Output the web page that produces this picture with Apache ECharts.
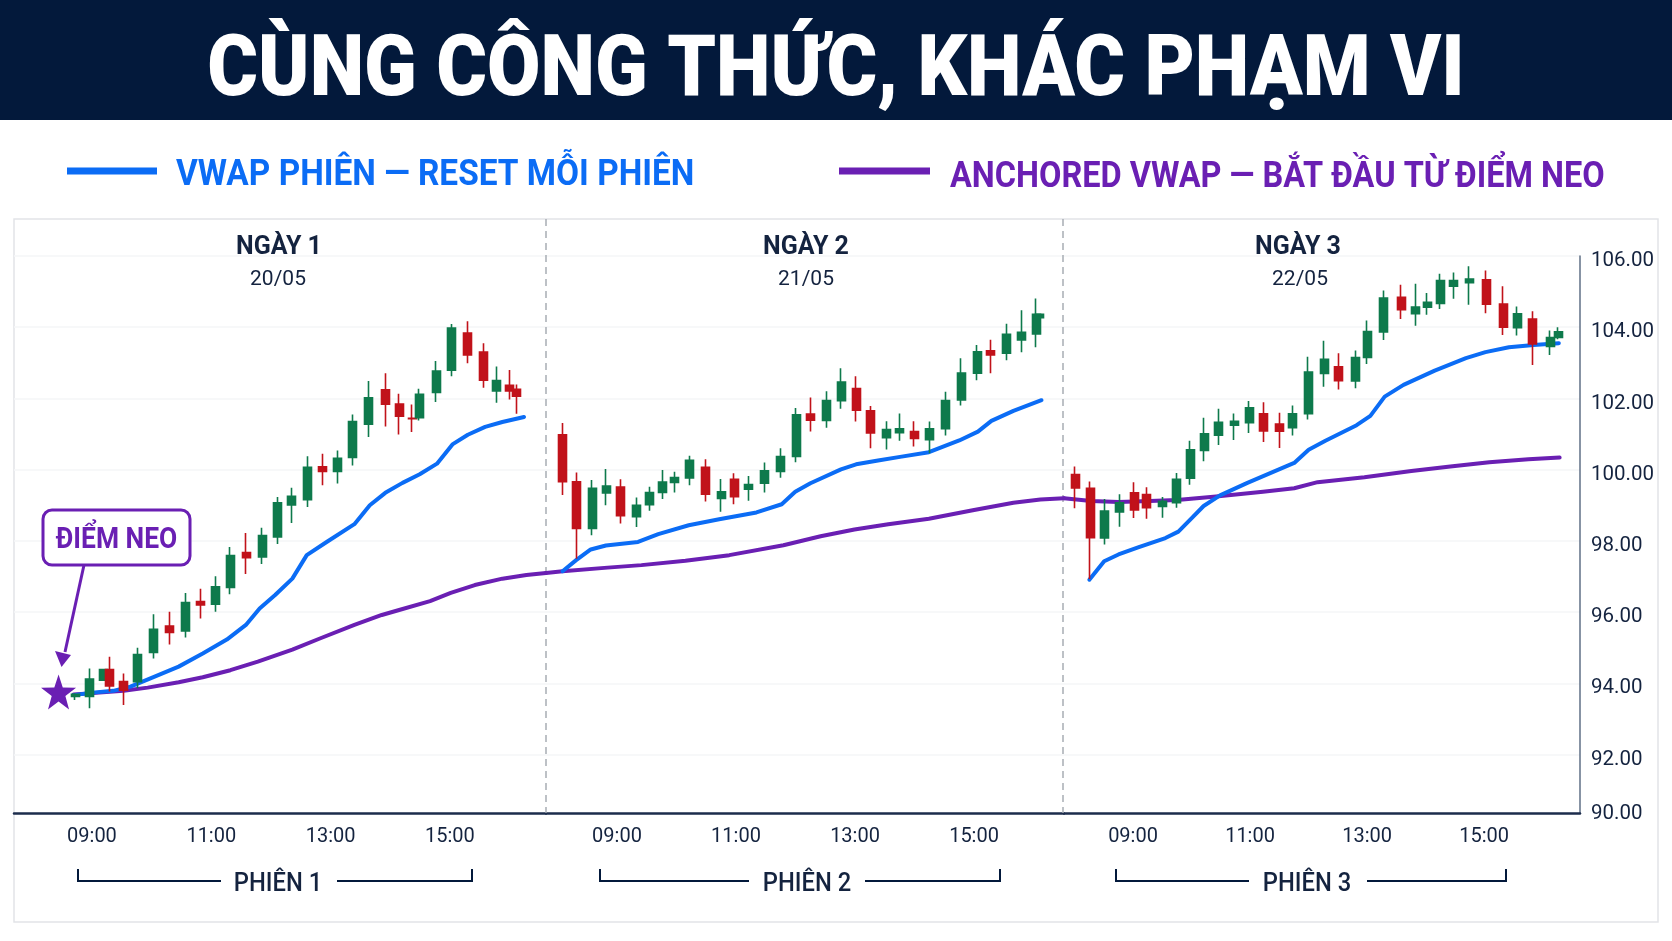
<!DOCTYPE html>
<html lang="vi">
<head>
<meta charset="utf-8">
<title>Cùng công thức, khác phạm vi</title>
<script src="https://cdn.jsdelivr.net/npm/echarts@6/dist/echarts.min.js"></script>
<style>
  html, body { margin: 0; padding: 0; background: #fff; }
  #chart { width: 1672px; height: 941px; }
</style>
</head>
<body>
<div id="chart"></div>
<script>
// truc y dung chung (gia tri 90.00 nam sat day khung)
const yTicks = [90.47, 92, 94, 96, 98, 100, 102, 104, 106];
const yTickLabels = ['90.00', '92.00', '94.00', '96.00', '98.00', '100.00', '102.00', '104.00', '106.00'];
// gio tren truc x, tinh bang phut trong ngay
const timeTicks = [540, 660, 780, 900];
const timeLabels = ['09:00', '11:00', '13:00', '15:00'];

// ngay 1
const d1Time = [523, 538, 552, 558, 572, 586, 602, 618, 634, 649, 664, 679, 695, 711, 727, 741, 757, 772, 787, 802, 818, 835, 849, 862, 869, 886, 902, 918, 934, 947, 960, 967];
const d1Open = [93.63, 93.63, 94.09, 94.39, 94.05, 94.05, 94.87, 95.61, 95.47, 96.30, 96.22, 96.69, 97.67, 97.55, 98.11, 99.01, 99.16, 100.08, 99.95, 100.34, 101.28, 102.24, 101.84, 101.44, 101.46, 102.17, 102.79, 103.84, 103.30, 102.21, 102.37, 102.26];
const d1Close = [93.69, 94.12, 94.39, 93.93, 93.81, 94.81, 95.52, 95.43, 96.27, 96.20, 96.71, 97.59, 97.53, 98.15, 99.07, 99.25, 100.07, 99.95, 100.32, 101.35, 102.02, 101.84, 101.50, 101.43, 102.12, 102.77, 103.98, 103.22, 102.51, 102.50, 102.21, 102.06];
const d1Low = [93.53, 93.30, 94.09, 93.77, 93.39, 93.86, 94.70, 95.09, 95.29, 95.82, 96.01, 96.50, 97.07, 97.35, 97.91, 98.50, 98.95, 99.56, 99.61, 100.12, 100.92, 101.21, 100.99, 101.06, 101.38, 101.90, 102.62, 102.99, 102.30, 101.88, 101.97, 101.57];
const d1High = [93.72, 94.42, 94.39, 94.75, 94.28, 95.00, 95.94, 96.01, 96.54, 96.66, 97.01, 97.83, 98.22, 98.37, 99.23, 99.49, 100.38, 100.45, 100.54, 101.55, 102.49, 102.71, 102.13, 101.83, 102.27, 103.05, 104.09, 104.17, 103.55, 102.90, 102.80, 102.39];
const d1BlueTime = [521.6, 540.6, 561.4, 578.7, 601.2, 627.2, 651.4, 675.6, 694.8, 708.6, 724.2, 741.5, 756, 776, 803.9, 819.4, 835, 852.3, 869.6, 887, 902.5, 918, 935.4, 952.7, 974.5];
const d1Blue = [93.67, 93.74, 93.79, 93.91, 94.17, 94.47, 94.84, 95.23, 95.64, 96.10, 96.48, 96.94, 97.60, 97.97, 98.47, 99.00, 99.35, 99.63, 99.87, 100.17, 100.71, 100.98, 101.20, 101.34, 101.48];
const d1PurpleTime = [521.6, 547.5, 571.8, 596, 627.2, 651.4, 679.2, 706.8, 741.5, 769.2, 803.9, 831.5, 848.9, 880, 900.8, 925, 952.7, 976.9, 996.6];
const d1Purple = [93.69, 93.74, 93.79, 93.88, 94.03, 94.17, 94.37, 94.61, 94.95, 95.26, 95.64, 95.92, 96.06, 96.31, 96.54, 96.76, 96.94, 97.04, 97.10];

// ngay 2
const d2Time = [485.5, 499, 515, 529, 544, 560, 573, 586, 598, 613, 629, 645, 658, 673, 689, 705, 720.5, 735, 751, 766, 781, 796, 812, 825, 839.5, 855, 871, 887, 903, 917, 933, 948, 962.5, 966];
const d2Open = [100.98, 99.66, 98.35, 99.35, 99.51, 98.68, 99.02, 99.36, 99.64, 99.77, 100.07, 99.19, 99.73, 99.45, 99.62, 99.95, 100.37, 101.56, 101.38, 101.94, 102.28, 101.65, 100.90, 101.04, 101.07, 100.84, 101.15, 101.96, 102.71, 103.34, 103.27, 103.64, 103.81, 104.27];
const d2Close = [99.66, 98.35, 99.48, 99.54, 98.71, 99.00, 99.36, 99.65, 99.78, 100.26, 99.31, 99.38, 99.24, 99.58, 99.97, 100.37, 101.54, 101.39, 101.94, 102.46, 101.67, 101.03, 101.13, 101.15, 100.88, 101.15, 101.94, 102.71, 103.31, 103.22, 103.80, 103.86, 104.36, 104.36];
const d2Low = [99.29, 97.50, 98.16, 99.00, 98.49, 98.39, 98.85, 99.18, 99.36, 99.56, 99.11, 98.82, 99.03, 99.13, 99.36, 99.77, 100.21, 101.07, 101.18, 101.71, 101.35, 100.60, 100.57, 100.81, 100.65, 100.46, 100.96, 101.80, 102.51, 102.71, 103.07, 103.30, 103.44, 104.27];
const d2High = [101.31, 99.92, 99.71, 100.02, 99.73, 99.22, 99.52, 99.99, 99.94, 100.39, 100.29, 99.74, 99.90, 99.82, 100.20, 100.60, 101.73, 102.03, 102.20, 102.85, 102.62, 101.79, 101.36, 101.58, 101.36, 101.35, 102.19, 103.13, 103.50, 103.65, 104.10, 104.48, 104.81, 104.36];
const d2BlueTime = [485.1, 498.8, 513.5, 528.8, 561.2, 581.6, 612.3, 643, 680.6, 706.1, 719.7, 735, 765.8, 781.1, 803.2, 825.4, 854.5, 885.1, 903.9, 917.5, 939.7, 968];
const d2Blue = [97.15, 97.46, 97.76, 97.87, 97.97, 98.19, 98.44, 98.61, 98.80, 99.03, 99.38, 99.62, 100.01, 100.15, 100.26, 100.36, 100.49, 100.82, 101.07, 101.37, 101.65, 101.95];
const d2PurpleTime = [468.4, 485.1, 530.5, 564.6, 609, 653.2, 707.8, 745.3, 779.4, 813.5, 854.5, 898.7, 939.7, 966.9, 990.7];
const d2Purple = [97.10, 97.15, 97.25, 97.32, 97.44, 97.60, 97.88, 98.13, 98.32, 98.47, 98.62, 98.86, 99.07, 99.16, 99.20];

// ngay 3
const d3Time = [480.5, 496, 511, 526, 541, 554, 570, 585, 598.5, 613, 628, 643.6, 659, 674, 690, 704, 719.5, 736, 751, 768, 780, 797, 815, 830, 841.5, 855, 869, 884.6, 902, 919.5, 934, 950, 967.7, 975.9];
const d3Open = [99.86, 99.48, 98.08, 98.81, 99.35, 99.30, 98.97, 99.07, 99.76, 100.54, 100.97, 101.25, 101.32, 101.57, 101.28, 101.18, 101.57, 102.70, 102.89, 102.49, 103.15, 103.87, 104.84, 104.38, 104.56, 104.67, 105.15, 105.25, 105.33, 104.65, 103.99, 104.23, 103.46, 103.71];
const d3Close = [99.49, 98.09, 98.84, 99.07, 98.87, 98.93, 99.11, 99.73, 100.56, 101.01, 101.33, 101.36, 101.74, 101.09, 101.08, 101.57, 102.74, 103.10, 102.50, 103.15, 103.88, 104.82, 104.49, 104.57, 104.70, 105.31, 105.31, 105.35, 104.65, 104.00, 104.38, 103.53, 103.71, 103.87];
const d3Low = [98.92, 96.93, 97.90, 98.40, 98.64, 98.62, 98.65, 98.93, 99.58, 100.24, 100.69, 100.83, 101.03, 100.78, 100.61, 100.96, 101.41, 102.33, 102.25, 102.29, 102.97, 103.64, 104.23, 104.04, 104.35, 104.51, 104.80, 104.63, 104.39, 103.78, 103.77, 102.94, 103.22, 103.66];
const d3High = [100.09, 99.67, 99.18, 99.31, 99.65, 99.51, 99.23, 99.91, 100.81, 101.46, 101.71, 101.58, 101.93, 101.89, 101.60, 101.80, 103.17, 103.62, 103.27, 103.35, 104.19, 105.03, 105.19, 105.22, 104.96, 105.50, 105.54, 105.71, 105.59, 105.15, 104.58, 104.45, 103.91, 104.00];
const d3BlueTime = [495.2, 510.4, 525.1, 545.2, 573.2, 586.5, 601.2, 612.4, 629.2, 657.3, 705.3, 720.1, 737.3, 769.3, 783.4, 798.1, 817.4, 849.4, 881.4, 901.4, 925.5, 950.8, 976.7];
const d3Blue = [96.91, 97.43, 97.62, 97.82, 98.08, 98.26, 98.67, 98.98, 99.28, 99.63, 100.19, 100.56, 100.81, 101.25, 101.51, 102.05, 102.38, 102.78, 103.13, 103.30, 103.44, 103.50, 103.55];
const d3PurpleTime = [469.2, 497.1, 525.1, 557.2, 585.2, 625.2, 673.3, 705.3, 729.3, 777.3, 825.4, 865.4, 905.4, 945.5, 977.5];
const d3Purple = [99.20, 99.12, 99.09, 99.12, 99.15, 99.25, 99.38, 99.48, 99.65, 99.79, 99.96, 100.09, 100.21, 100.29, 100.34];

// diem neo (ngoi sao)
const anchorPoint = [506.4, 93.76];

const NAVY = '#03193b';
const TEXT = '#14233f';
const BLUE = '#0b6cf5';
const PURPLE = '#6a1fb3';
const GREEN = '#0e7a4c';
const RED = '#c1121a';
const FONT = 'Roboto';

const GRID_TOP = 256;
const GRID_H = 557;
// khung moi ngay, min/max la phut o mep trai/phai
const panels = [
  { left: 14, right: 546, min: 461.6, max: 996.6 },
  { left: 546, right: 1064, min: 468.4, max: 990.7 },
  { left: 1064, right: 1580, min: 469.2, max: 998.4 }
];

const zip = (a, b) => a.map((v, i) => [v, b[i]]);
const candles = (t, o, c, l, h) => t.map((v, i) => [v, o[i], c[i], l[i], h[i]]);
const hhmm = m => String(Math.floor(m / 60)).padStart(2, '0') + ':' + String(m % 60).padStart(2, '0');

function candleSeries(i, data) {
  return {
    type: 'candlestick', name: 'Ngày ' + (i + 1), xAxisIndex: i, yAxisIndex: i, z: 4,
    barWidth: 8.5, data: data,
    itemStyle: { color: GREEN, color0: RED, borderColor: GREEN, borderColor0: RED, borderWidth: 1.6 }
  };
}
function lineSeries(i, name, color, data, z) {
  return {
    type: 'line', name: name, xAxisIndex: i, yAxisIndex: i, z: z, data: data,
    showSymbol: false, clip: false, silent: true,
    lineStyle: { color: color, width: 4, cap: 'round', join: 'round' }
  };
}

function label(text, x, y, size, weight, color, scale, align) {
  return {
    type: 'text', x: x, y: y, scaleX: scale || 1, silent: true, z: 10,
    style: { text: text, fontFamily: FONT, fontSize: size, fontWeight: weight, fill: color, align: align || 'center', verticalAlign: 'middle' }
  };
}
function segment(x1, y1, x2, y2, color, width, dash) {
  return {
    type: 'line', silent: true, z: 2,
    shape: { x1: x1, y1: y1, x2: x2, y2: y2 },
    style: { stroke: color, lineWidth: width, lineDash: dash || null }
  };
}
// dau ngoac phien: hai nhanh + chu o giua
function bracket(x1, x2, x3, x4, name, cx) {
  const top = 869, bot = 881;
  return [
    { type: 'polyline', silent: true, z: 2, shape: { points: [[x1, top], [x1, bot], [x2, bot]] }, style: { stroke: NAVY, lineWidth: 2, fill: null } },
    { type: 'polyline', silent: true, z: 2, shape: { points: [[x3, bot], [x4, bot], [x4, top]] }, style: { stroke: NAVY, lineWidth: 2, fill: null } },
    label(name, cx, 885, 25, 500, TEXT, 0.95)
  ];
}

const graphics = [
  { type: 'rect', silent: true, z: -5, shape: { x: 0, y: 0, width: 1672, height: 120 }, style: { fill: NAVY } },
  { type: 'rect', silent: true, z: -5, shape: { x: 14, y: 219, width: 1644, height: 703 }, style: { fill: '#fff', stroke: '#e2e4e8', lineWidth: 1.5 } },
  label('CÙNG CÔNG THỨC, KHÁC PHẠM VI', 836, 74, 85, 900, '#ffffff', 0.912),
  segment(67, 171, 157, 171, BLUE, 7),
  label('VWAP PHIÊN — RESET MỖI PHIÊN', 176, 176, 36, 700, BLUE, 0.928, 'left'),
  segment(839, 171, 930, 171, PURPLE, 7),
  label('ANCHORED VWAP — BẮT ĐẦU TỪ ĐIỂM NEO', 950, 178, 36, 700, PURPLE, 0.903, 'left'),
  segment(546, 219, 546, 813, '#a8adb4', 1.5, [7, 5]),
  segment(1063, 219, 1063, 813, '#a8adb4', 1.5, [7, 5]),
  label('NGÀY 1', 279, 248, 25, 700, TEXT, 1),
  label('20/05', 278, 280, 21, 400, TEXT),
  label('NGÀY 2', 806, 248, 25, 700, TEXT, 1),
  label('21/05', 806, 280, 21, 400, TEXT),
  label('NGÀY 3', 1298, 248, 25, 700, TEXT, 1),
  label('22/05', 1300, 280, 21, 400, TEXT),
  // chu thich diem neo
  { type: 'rect', silent: true, z: 9, shape: { x: 43, y: 510, width: 147, height: 55, r: 9 }, style: { fill: '#fff', stroke: PURPLE, lineWidth: 3 } },
  label('ĐIỂM NEO', 116.5, 540, 30, 700, PURPLE, 0.88),
  segment(84, 565, 65, 652, PURPLE, 3),
  { type: 'polygon', silent: true, z: 9, shape: { points: [[55, 651], [71, 655], [61.5, 667]] }, style: { fill: PURPLE } }
].concat(
  bracket(78, 221, 337, 472, 'PHIÊN 1', 278),
  bracket(600, 749, 865, 1000, 'PHIÊN 2', 807),
  bracket(1116, 1249, 1367, 1506, 'PHIÊN 3', 1307)
);

const option = {
  animation: false,
  backgroundColor: '#fff',
  textStyle: { fontFamily: FONT },
  graphic: { elements: graphics },
  grid: panels.map(p => ({ left: p.left, width: p.right - p.left, top: GRID_TOP, height: GRID_H })),
  xAxis: panels.map((p, i) => ({
    gridIndex: i, type: 'value', min: p.min, max: p.max, position: 'bottom',
    splitLine: { show: false },
    axisTick: { show: false },
    axisLine: { show: true, onZero: false, lineStyle: { color: '#1c2c4c', width: 2.5 } },
    axisLabel: {
      margin: 14, fontSize: 20, color: TEXT, showMinLabel: true, showMaxLabel: true,
      customValues: timeTicks,
      formatter: v => timeLabels[timeTicks.indexOf(v)] || hhmm(v)
    }
  })),
  yAxis: panels.map((p, i) => ({
    gridIndex: i, type: 'value', min: 90.36, max: 106, position: 'right',
    axisTick: { show: false, customValues: yTicks.slice(1) },
    axisLine: { show: i === 2, lineStyle: { color: '#5f6f86', width: 1.5 } },
    splitLine: { show: true, lineStyle: { color: '#f5f6f7', width: 1.5 } },
    axisLabel: {
      show: i === 2, margin: 11, fontSize: 20.5, color: TEXT, verticalAlign: 'top', lineHeight: 10,
      customValues: yTicks,
      formatter: v => yTickLabels[yTicks.indexOf(v)]
    }
  })),
  series: [
    lineSeries(0, 'Anchored VWAP', PURPLE, zip(d1PurpleTime, d1Purple), 3),
    lineSeries(1, 'Anchored VWAP', PURPLE, zip(d2PurpleTime, d2Purple), 3),
    lineSeries(2, 'Anchored VWAP', PURPLE, zip(d3PurpleTime, d3Purple), 3),
    lineSeries(0, 'VWAP phiên', BLUE, zip(d1BlueTime, d1Blue), 3),
    lineSeries(1, 'VWAP phiên', BLUE, zip(d2BlueTime, d2Blue), 3),
    lineSeries(2, 'VWAP phiên', BLUE, zip(d3BlueTime, d3Blue), 3),
    candleSeries(0, candles(d1Time, d1Open, d1Close, d1Low, d1High)),
    candleSeries(1, candles(d2Time, d2Open, d2Close, d2Low, d2High)),
    candleSeries(2, candles(d3Time, d3Open, d3Close, d3Low, d3High)),
    {
      type: 'scatter', name: 'Điểm neo', xAxisIndex: 0, yAxisIndex: 0, z: 6, clip: false,
      symbol: 'path://M50 0 L61.8 35.1 L98.9 35.5 L69.1 57.6 L79.4 93 L50 72 L20.6 93 L30.9 57.6 L1.1 35.5 L38.2 35.1 Z',
      symbolSize: 35, itemStyle: { color: PURPLE, opacity: 1 }, data: [anchorPoint]
    }
  ]
};

const chart = echarts.init(document.getElementById('chart'));
chart.setOption(option);
</script>
</body>
</html>
